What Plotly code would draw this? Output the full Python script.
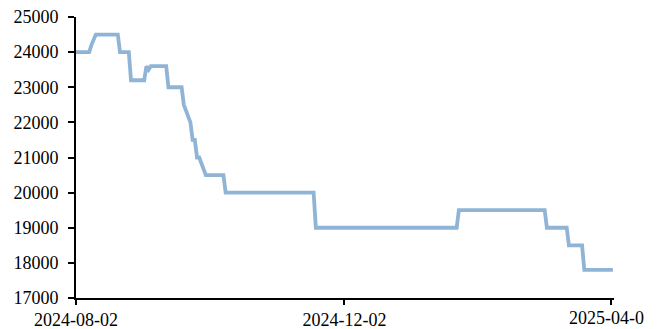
import plotly.graph_objects as go

dates = [
    "2024-08-02", "2024-08-08", "2024-08-09", "2024-08-11", "2024-08-21",
    "2024-08-22", "2024-08-26", "2024-08-27", "2024-09-02", "2024-09-03",
    "2024-09-04", "2024-09-05", "2024-09-12", "2024-09-13", "2024-09-19",
    "2024-09-20", "2024-09-23", "2024-09-24", "2024-09-25", "2024-09-26",
    "2024-09-27", "2024-09-30", "2024-10-08", "2024-10-09", "2024-11-18",
    "2024-11-19", "2025-01-22", "2025-01-23", "2025-03-03", "2025-03-04",
    "2025-03-13", "2025-03-14", "2025-03-20", "2025-03-21", "2025-04-03",
]
values = [
    24000, 24000, 24200, 24500, 24500,
    24000, 24000, 23200, 23200, 23600,
    23500, 23600, 23600, 23000, 23000,
    22500, 22000, 21500, 21500, 21000,
    21000, 20500, 20500, 20000, 20000,
    19000, 19000, 19500, 19500, 19000,
    19000, 18500, 18500, 17800, 17800,
]
x_tick_vals = ["2024-08-02", "2024-12-02", "2025-04-02"]
x_tick_text = ["2024-08-02", "2024-12-02", ""]
last_tick_label = "2025-04-0"
y_tick_vals = [17000, 18000, 19000, 20000, 21000, 22000, 23000, 24000, 25000]
y_tick_text = ["17000", "18000", "19000", "20000", "21000", "22000", "23000", "24000", "25000"]

font = dict(family="Liberation Serif", size=18, color="#000000")

fig = go.Figure()
fig.add_trace(go.Scatter(
    x=dates, y=values, mode="lines",
    line=dict(color="#90B4D5", width=3.8),
    showlegend=False, hoverinfo="skip",
))

fig.add_annotation(
    x=x_tick_vals[-1], xref="x", y=0, yref="paper",
    text=last_tick_label, showarrow=False,
    xanchor="center", yanchor="top", yshift=-8, xshift=-4,
    font=font,
)

fig.update_layout(
    width=663, height=329,
    margin=dict(l=76, r=49, t=17, b=31, autoexpand=False),
    paper_bgcolor="white", plot_bgcolor="white",
    font=font,
    xaxis=dict(
        type="date",
        range=["2024-08-02", "2025-04-03 12:00"],
        tickvals=x_tick_vals, ticktext=x_tick_text,
        showgrid=False, zeroline=False,
        showline=True, linecolor="black", linewidth=2,
        ticks="outside", ticklen=5, tickwidth=2, tickcolor="black",
        tickfont=font, automargin=False,
        ticklabelstandoff=-1,
    ),
    yaxis=dict(
        range=[17000, 25000],
        tickvals=y_tick_vals, ticktext=y_tick_text,
        showgrid=False, zeroline=False,
        showline=True, linecolor="black", linewidth=2,
        ticks="outside", ticklen=6, tickwidth=2, tickcolor="black",
        tickfont=font, automargin=False,
        ticklabelstandoff=6,
    ),
)

fig.write_html(
    "out.html",
    config={"displayModeBar": False},
    post_script="document.body.style.margin='0px';document.body.style.overflow='hidden';",
)
